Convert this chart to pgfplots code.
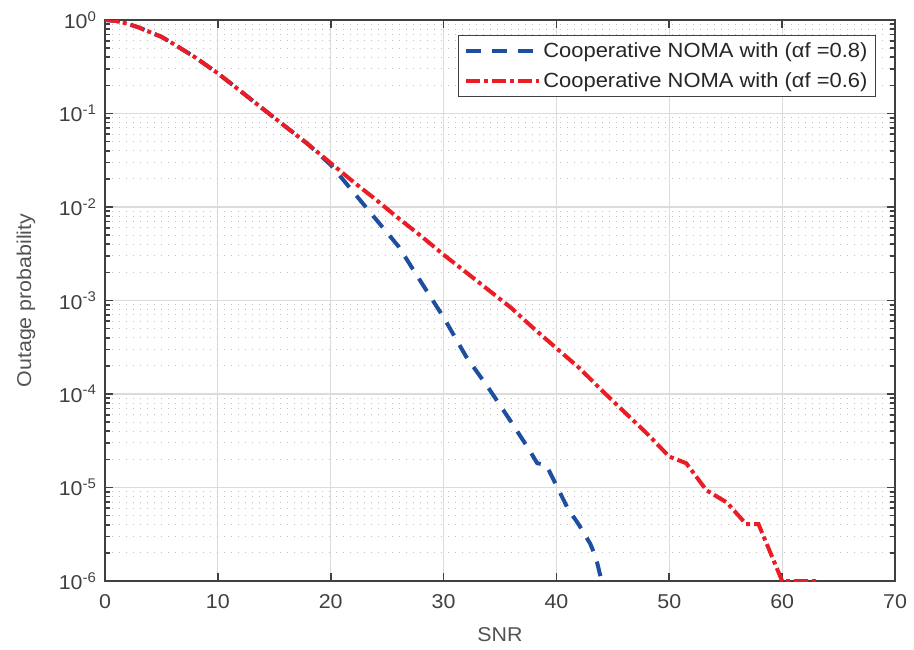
\documentclass[border=0pt]{standalone}
\usepackage{pgfplots}
\pgfplotsset{compat=1.18}
\usepackage{fontspec}
\setmainfont[FakeStretch=1.07]{Liberation Sans}
\definecolor{myblue}{RGB}{30,78,160}
\definecolor{myred}{RGB}{236,28,36}
\definecolor{axgray}{RGB}{64,64,64}
\begin{document}
\begin{tikzpicture}
\begin{axis}[
  scale only axis,
  width=790pt, height=561pt,
  ymode=log, log basis y=10,
  xmin=0, xmax=70, ymin=1e-6, ymax=1,
  xtick={0,10,...,70},
  ytick={1e-6,1e-5,1e-4,1e-3,1e-2,1e-1,1},
  minor ytick={2e-6,3e-6,4e-6,5e-6,6e-6,7e-6,8e-6,9e-6,
    2e-5,3e-5,4e-5,5e-5,6e-5,7e-5,8e-5,9e-5,
    2e-4,3e-4,4e-4,5e-4,6e-4,7e-4,8e-4,9e-4,
    2e-3,3e-3,4e-3,5e-3,6e-3,7e-3,8e-3,9e-3,
    2e-2,3e-2,4e-2,5e-2,6e-2,7e-2,8e-2,9e-2,
    0.2,0.3,0.4,0.5,0.6,0.7,0.8,0.9},
  yticklabel={10\textsuperscript{\pgfmathparse{int(round(\tick))}\pgfmathresult}},
  /pgf/number format/assume math mode=true,
  tick pos=both, tick align=inside,
  major tick length=8pt, minor tick length=5pt,
  every tick/.style={axgray, line width=1.6pt},
  axis line style={axgray, line width=2pt},
  xmajorgrids, ymajorgrids, yminorgrids,
  major grid style={gray!28, line width=1.2pt},
  minor grid style={gray!50, line width=1pt, dash pattern=on 1.2pt off 5.8pt},
  ticklabel style={font=\fontsize{20}{24}\selectfont, text=axgray},
  xticklabel style={yshift=-10pt},
  yticklabel style={xshift=-5pt},
  label style={font=\fontsize{20}{24}\selectfont, text=axgray!90},
  xlabel={SNR}, ylabel={Outage probability},
  xlabel style={at={([yshift=-54pt]axis description cs:0.5,0)}, anchor=center},
  ylabel style={at={([xshift=-79pt]axis description cs:0,0.5)}, anchor=center},
  legend cell align=left,
  legend style={at={(1,1)}, anchor=north east, xshift=-19pt, yshift=-15pt,
    draw=axgray, line width=1pt, font=\fontsize{20.5}{24}\selectfont, text=black!85,
    inner xsep=6pt, inner ysep=5.5pt, row sep=9.5pt},
  legend image code/.code={\draw[#1] (0pt,0pt) -- (73pt,0pt);},
]
\addplot[myblue, line width=4pt, dash pattern=on 15pt off 11pt] coordinates {
(0,1) (1,0.977) (2,0.912) (3,0.832) (4,0.741) (5,0.661) (6,0.562) (8,0.398)
(10,0.269) (12,0.174) (14,0.112) (16,0.0724) (18,0.0468) (20,0.0282)
(22,0.0145) (24,0.00741) (26,0.00380) (28,0.00158) (30,0.000661)
(32,0.000251) (34,0.000115) (36,5.01e-5) (37.5,2.63e-5) (38.3,1.82e-5)
(39.1,1.74e-5) (40,1.05e-5) (41,6.0e-6) (42,3.98e-6) (43,2.5e-6) (43.5,1.78e-6) (44,1e-6)
};
\addlegendentry{Cooperative NOMA with (αf =0.8)}
\addplot[myred, line width=4pt, dash pattern=on 14pt off 4pt on 4pt off 4pt] coordinates {
(0,1) (1,0.977) (2,0.912) (3,0.832) (4,0.741) (5,0.661) (6,0.562) (8,0.398)
(10,0.269) (12,0.174) (14,0.112) (16,0.0724) (18,0.0468) (20,0.0295)
(22,0.0186) (24,0.0120) (26,0.00759) (28,0.00490) (30,0.00309)
(32,0.00200) (34,0.00129) (36,0.000832) (38,0.000501) (40,0.000309)
(42,0.000191) (44,0.000110) (46,6.46e-5) (48,3.80e-5) (50,2.14e-5)
(51.5,1.82e-5) (53.3,9.33e-6) (55.1,6.92e-6) (56.8,4.07e-6) (57.9,4.07e-6)
(60,1e-6) (63,1e-6)
};
\addlegendentry{Cooperative NOMA with (αf =0.6)}
\end{axis}
\path (current axis.south west) ++(-105pt,-68pt);
\path (current axis.north east) ++(19pt,20pt);
\end{tikzpicture}
\end{document}
